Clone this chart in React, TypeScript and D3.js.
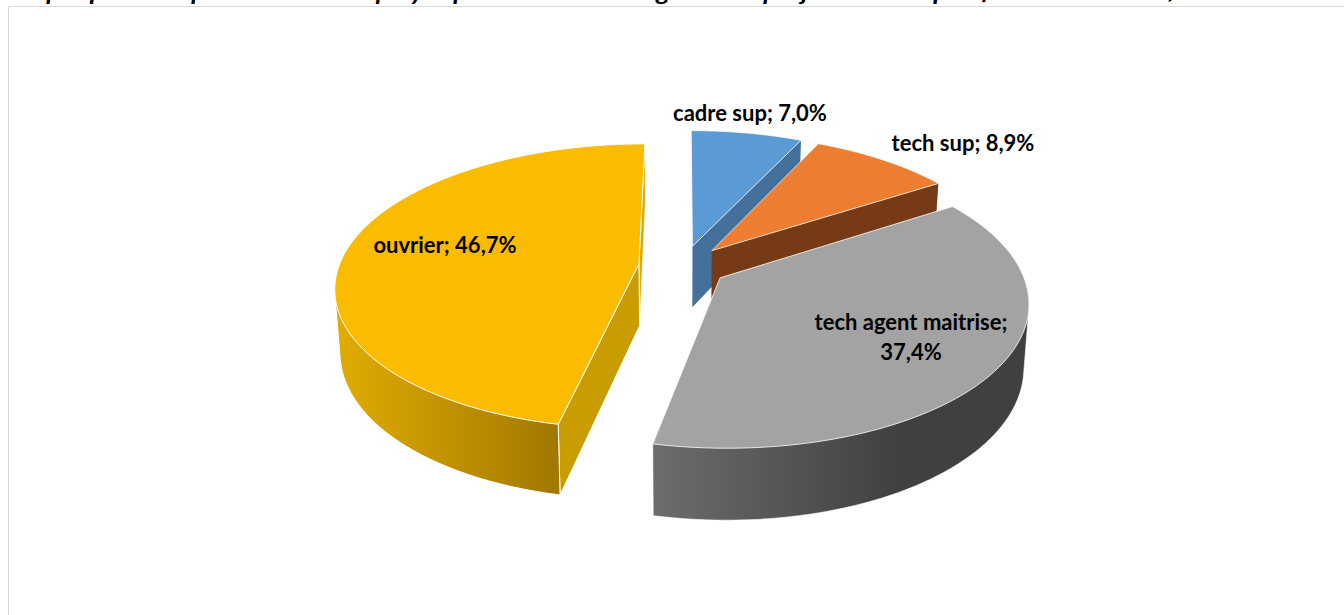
import React from "react";
import * as d3 from "d3";

const categories = ["cadre sup", "tech sup", "tech agent maitrise", "ouvrier"];
const shares = [7.0, 8.9, 37.4, 46.7];
const topColors = ["#5B9BD5", "#ED7D31", "#A3A3A3", "#FBBC00"];
const faceColors = ["#44719B", "#763A17", "#777777", "#C99C00"];
const titleText = "Graphique 6 : Répartition des employés par niveau et catégorie des projets et leur qualification en 2016/17";

const CX = 683, CY = 266, RX = 300, RY = 139.5, PERSP = 0.157, EXPL = 0.148, DEPTH = 62, SHRINK = 0.985;
const TAU = Math.PI * 2;
const DEG = Math.PI / 180;

type P = [number, number];
function project(wx: number, wy: number, bottom: boolean): P {
  const s = 1 / (1 - PERSP * wy);
  const k = bottom ? SHRINK : 1;
  return [CX + RX * s * wx * k, CY + RY * s * wy * k + (bottom ? DEPTH * s : 0)];
}

const pie = d3.pie<number>().sort(null).startAngle(0).endAngle(TAU);
const arcs = pie(shares);
const line = d3.line<P>();

function slicePts(i: number) {
  const a = arcs[i];
  const mid = (a.startAngle + a.endAngle) / 2;
  const ox = EXPL * Math.sin(mid), oy = -EXPL * Math.cos(mid);
  const at = (t: number, r: number, b: boolean) =>
    project(ox + r * Math.sin(t), oy - r * Math.cos(t), b);
  const steps = d3.range(0, 81).map((n) => a.startAngle + ((a.endAngle - a.startAngle) * n) / 80);
  return { a, at, steps };
}

function topPath(i: number) {
  const { at, steps } = slicePts(i);
  return line([at(0, 0, false), ...steps.map((t) => at(t, 1, false))])! + "Z";
}
// the visible outer wall is the hull of the front part of the top and bottom rims
function wallPath(i: number, fromDeg: number, toDeg: number) {
  const { at, steps } = slicePts(i);
  const vis = steps.filter((t) => t >= fromDeg * DEG && t <= toDeg * DEG);
  const hull = d3.polygonHull([...vis.map((t) => at(t, 1, false)), ...vis.map((t) => at(t, 1, true))])!;
  return line(hull)! + "Z";
}
function facePath(i: number, end: boolean) {
  const { a, at } = slicePts(i);
  const t = end ? a.endAngle : a.startAngle;
  return line([at(0, 0, false), at(t, 1, false), at(t, 1, true), at(0, 0, true)])! + "Z";
}

const labels: { i: number; lines: string[]; x: number; y: number }[] = [
  { i: 0, lines: ["cadre sup; 7,0%"], x: 750, y: 121 },
  { i: 1, lines: ["tech sup; 8,9%"], x: 963, y: 151 },
  { i: 2, lines: ["tech agent maitrise;", "37,4%"], x: 911, y: 330 },
  { i: 3, lines: ["ouvrier; 46,7%"], x: 445, y: 253 },
];

export default function App() {
  return (
    <svg width={1344} height={615} style={{ position: "absolute", left: 0, top: 0, background: "#fff" }}>
      <defs>
        <linearGradient id="gWall" gradientUnits="userSpaceOnUse" x1={656} x2={900} y1={0} y2={0}>
          <stop offset="0" stopColor="#6C6C6C" />
          <stop offset="1" stopColor="#404040" />
        </linearGradient>
        <linearGradient id="yWall" gradientUnits="userSpaceOnUse" x1={340} x2={560} y1={0} y2={0}>
          <stop offset="0" stopColor="#E0AB00" />
          <stop offset="1" stopColor="#A07800" />
        </linearGradient>
      </defs>
      <text transform="translate(5,-0.5) scale(1.35,1)" fontFamily="Lato, sans-serif" fontWeight={700} fontStyle="italic" fontSize={20} fill="#000">{titleText}</text>
      <path d="M8.5 615V6.5H1344" fill="none" stroke="#D9D9D9" strokeWidth={1} />

      {/* cadre sup */}
      <path d={facePath(0, true)} fill={faceColors[0]} />
      <path d={topPath(0)} fill={topColors[0]} stroke="#fff" strokeOpacity={0.7} strokeWidth={1} />
      {/* tech sup */}
      <path d={facePath(1, true)} fill={faceColors[1]} />
      <path d={topPath(1)} fill={topColors[1]} stroke="#fff" strokeOpacity={0.7} strokeWidth={1} />
      {/* tech agent maitrise */}
      <path d={wallPath(2, 95, 192)} fill="url(#gWall)" stroke="#fff" strokeOpacity={0.6} strokeWidth={1} />
      <path d={topPath(2)} fill={topColors[2]} stroke="#fff" strokeOpacity={0.8} strokeWidth={1} />
      {/* ouvrier */}
      <path d={facePath(3, true)} fill="#DDAA00" stroke="#fff" strokeOpacity={0.6} strokeWidth={1} />
      <path d={facePath(3, false)} fill={faceColors[3]} stroke="#fff" strokeWidth={1} />
      <path d={wallPath(3, 191, 280)} fill="url(#yWall)" stroke="#fff" strokeWidth={1} />
      <path d={topPath(3)} fill={topColors[3]} stroke="#fff" strokeWidth={1} />

      {labels.map((l) =>
        l.lines.map((s, j) => (
          <text key={categories[l.i] + j} x={l.x} y={l.y + j * 30} textAnchor="middle"
            fontFamily="Lato, sans-serif" fontWeight={700} fontSize={22} fill="#000">{s}</text>
        ))
      )}
    </svg>
  );
}
